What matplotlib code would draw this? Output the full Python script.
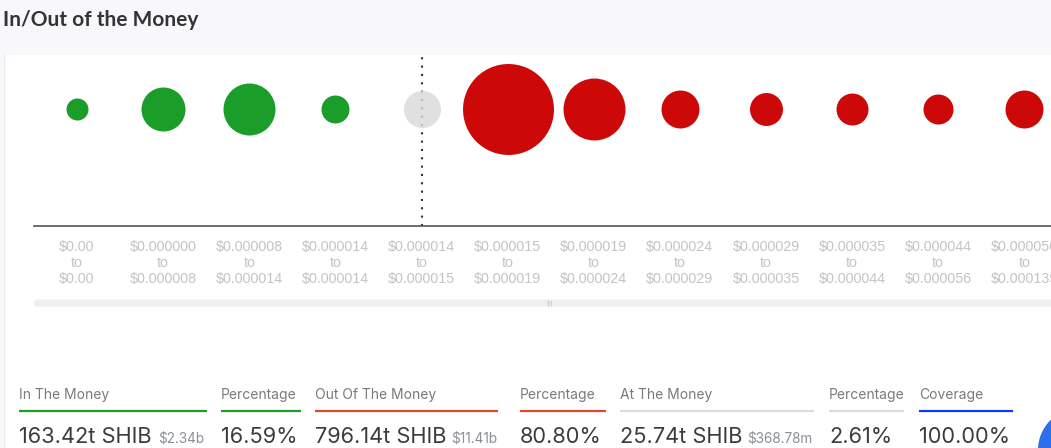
import numpy as np
import matplotlib
matplotlib.use("Agg")
import matplotlib.pyplot as plt
from matplotlib.patches import Rectangle, FancyBboxPatch, Circle

# ----------------- Données ----------------- #
range_low = ["$0.00", "$0.000000", "$0.000008", "$0.000014", "$0.000014", "$0.000015",
             "$0.000019", "$0.000024", "$0.000029", "$0.000035", "$0.000044", "$0.000056"]
range_high = ["$0.00", "$0.000008", "$0.000014", "$0.000014", "$0.000015", "$0.000019",
              "$0.000024", "$0.000029", "$0.000035", "$0.000044", "$0.000056", "$0.000139"]
# volume par tranche (trillions SHIB, estimé depuis la taille des bulles)
volumes = [13.4, 53.6, 74.8, 21.7, 37.9, 229.0, 106.3, 39.9, 30.1, 28.3, 24.9, 39.9]
status = ["in", "in", "in", "in", "at", "out", "out", "out", "out", "out", "out", "out"]

stat_labels = ["In The Money", "Percentage", "Out Of The Money", "Percentage",
               "At The Money", "Percentage", "Coverage"]
stat_values = ["163.42t SHIB", "16.59%", "796.14t SHIB", "80.80%",
               "25.74t SHIB", "2.61%", "100.00%"]
stat_usd = ["$2.34b", "", "$11.41b", "", "$368.78m", "", ""]
stat_kind = ["in", "in", "out", "out", "at", "at", "cov"]

# ----------------- Style ----------------- #
W, H, DPI = 1051, 448, 100
colors = {"in": "#1a9e29", "out": "#cc0808", "at": "#d9d9d9"}
line_colors = {"in": "#1a9e29", "out": "#db4a2e", "at": "#dcdcdc", "cov": "#0a3cf0"}
PX_PER_SQRT = 6.01  # diametre bulle (px) = k * sqrt(volume)

fig = plt.figure(figsize=(W / DPI, H / DPI), dpi=DPI)
fig.patch.set_facecolor("white")

# fond / décor en coordonnées pixel
bg = fig.add_axes([0, 0, 1, 1], zorder=0)
bg.set_xlim(0, W)
bg.set_ylim(H, 0)
bg.axis("off")
bg.add_patch(Rectangle((0, 0), W, 55, color="#f8f8fa", lw=0))
bg.add_patch(Rectangle((0, 0), 4, H, color="#f8f8fa", lw=0))
bg.plot([4, 4], [55, H], color="#ececf0", lw=0.8)
bg.text(3, 20, "In/Out of the Money", fontsize=15, fontweight="bold",
        color="#333338", va="center", ha="left", family=["Lato", "DejaVu Sans"])

# barre de défilement
bg.add_patch(FancyBboxPatch((34, 299.5), W, 7, boxstyle="round,pad=0,rounding_size=3.5",
                            color="#efefef", lw=0))
bg.text(549, 303, "|||", fontsize=4.5, color="#b8b8b8", ha="center", va="center")

# ----------------- Graphique à bulles ----------------- #
ax = fig.add_axes([34 / W, 1 - 226 / H, (W - 34) / W, (226 - 55) / H], zorder=2)
ax.set_facecolor("none")
x = np.arange(len(volumes))
ax.set_xlim(-0.5, 11.31)
ax.set_ylim(0, 1)

ax.axvline(status.index("at"), color="#333333", lw=1.5, linestyle=(0, (1, 3)),
           dash_capstyle="butt", zorder=1)

diam_pt = PX_PER_SQRT * np.sqrt(np.array(volumes)) * 72 / DPI
for xi, d, st in zip(x, diam_pt, status):
    ax.scatter(xi, 0.684, s=d ** 2, color=colors[st], lw=0,
               alpha=0.8 if st == "at" else 1.0, zorder=2, clip_on=False)

for side in ["top", "left", "right"]:
    ax.spines[side].set_visible(False)
ax.spines["bottom"].set_color("#555555")
ax.spines["bottom"].set_linewidth(1.2)
ax.set_yticks([])
ax.set_xticks(x)
ax.set_xticklabels([f"{lo}\nto\n{hi}" for lo, hi in zip(range_low, range_high)],
                   fontsize=10.3, color="#c4c4c8", linespacing=1.2,
                   family=["Liberation Sans", "DejaVu Sans"])
ax.tick_params(axis="x", length=0, pad=10)

# ----------------- Statistiques ----------------- #
col_x0 = [19, 221, 315, 520, 620, 829, 919]
col_x1 = [207, 301, 498, 606, 814, 904, 1013]
usd_x = [158, None, 451, None, 747, None, None]
font = ["Inter", "DejaVu Sans"]
for i in range(len(stat_labels)):
    bg.text(col_x0[i], 395, stat_labels[i], fontsize=10, color="#7a7a7e",
            va="center", ha="left", family=font)
    bg.plot([col_x0[i], col_x1[i]], [411, 411], color=line_colors[stat_kind[i]],
            lw=1.6, solid_capstyle="butt")
    bg.text(col_x0[i], 443, stat_values[i], fontsize=15.7, color="#3c3c3c",
            va="baseline", ha="left", family=font)
    if stat_usd[i]:
        bg.text(usd_x[i], 443, stat_usd[i], fontsize=9.8, color="#8a8f98",
                va="baseline", ha="left", family=font)

bg.add_patch(Circle((1080, 450), 42, color="#2c6fe8", lw=0))

fig.savefig("out.png", dpi=DPI)
